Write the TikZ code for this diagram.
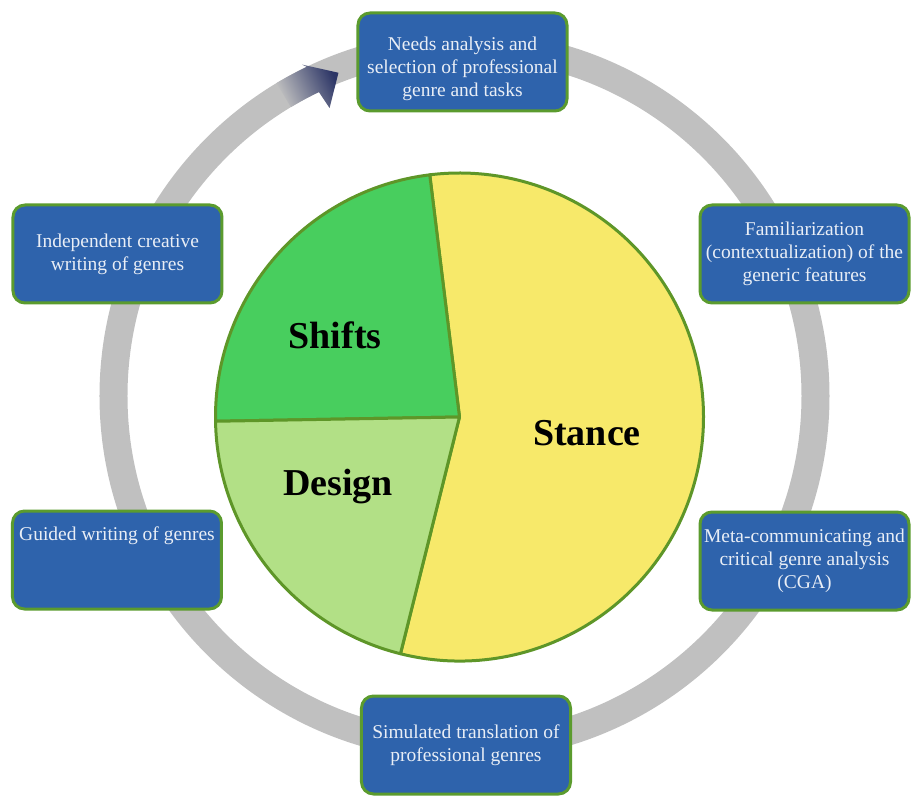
\documentclass[tikz,border=0pt]{standalone}
\usepackage{fontspec}
\setmainfont{Liberation Serif}

\definecolor{boxblue}{HTML}{2E63AC}
\definecolor{boxgreen}{HTML}{5B9B2E}
\definecolor{boxtext}{HTML}{E9EEF6}
\definecolor{ringgray}{HTML}{C0C0C0}
\definecolor{arrownavy}{HTML}{2C3566}
\definecolor{pieedge}{HTML}{5E9628}
\definecolor{shiftsgreen}{HTML}{48CE5E}
\definecolor{designgreen}{HTML}{B2E086}
\definecolor{stanceyellow}{HTML}{F7E96A}

\tikzset{
    task/.style={draw=boxgreen, line width=3pt, fill=boxblue, rounded corners=12pt,
        minimum width=209pt, minimum height=98pt, inner sep=0pt,
        align=center, text=boxtext, font=\fontsize{19.5}{23}\selectfont},
    slice/.style={draw=pieedge, line width=3pt, line join=round},
    part/.style={font=\fontsize{38}{40}\selectfont\bfseries}
}

\begin{document}
\begin{tikzpicture}[x=10pt,y=10pt]
    \useasboundingbox (-45.95,-37.8) rectangle (45.25,41.7);

    \draw[ringgray, line width=28pt] (0.5,2.1) circle[radius=35.1];
    \begin{scope}[shift={(0.5,2.1)}]
        \shade[left color=ringgray, right color=arrownavy, shading angle=115]
            (121:36.5) arc[start angle=121, end angle=115.6, radius=36.5]
            -- (116.1:36.9) -- (111.3:34.7) -- (115.1:31.8)
            -- (115.6:33.7) arc[start angle=115.6, end angle=121, radius=33.7] -- cycle;
    \end{scope}

    \filldraw[slice, fill=stanceyellow] (0,0) -- (-104:24.4) arc[start angle=-104, end angle=97, radius=24.4] -- cycle;
    \filldraw[slice, fill=shiftsgreen] (0,0) -- (97:24.4) arc[start angle=97, end angle=181, radius=24.4] -- cycle;
    \filldraw[slice, fill=designgreen] (0,0) -- (181:24.4) arc[start angle=181, end angle=256, radius=24.4] -- cycle;

    \node[part] (shifts) at (-12.45,8.2) {Shifts};
    \node[part] (design) at (-12.15,-7.0) {Design};
    \node[part] (stance) at (12.75,-1.6) {Stance};

    \node[task] (needs) at (0.3,35.5) {\rule{0pt}{28pt}Needs analysis and\\selection of professional\\genre and tasks};
    \node[task] (indep) at (-34.2,16.3) {Independent creative\\writing of genres};
    \node[task] (famil) at (34.5,16.3) {Familiarization\\(contextualization) of the\\generic features};
    \node[task] (guided) at (-34.25,-14.3) {Guided writing of genres\\\strut\\\strut};
    \node[task] (meta) at (34.5,-14.4) {Meta-communicating and\\critical genre analysis\\(CGA)};
    \node[task] (simul) at (0.65,-32.8) {Simulated translation of\\professional genres};
\end{tikzpicture}
\end{document}
